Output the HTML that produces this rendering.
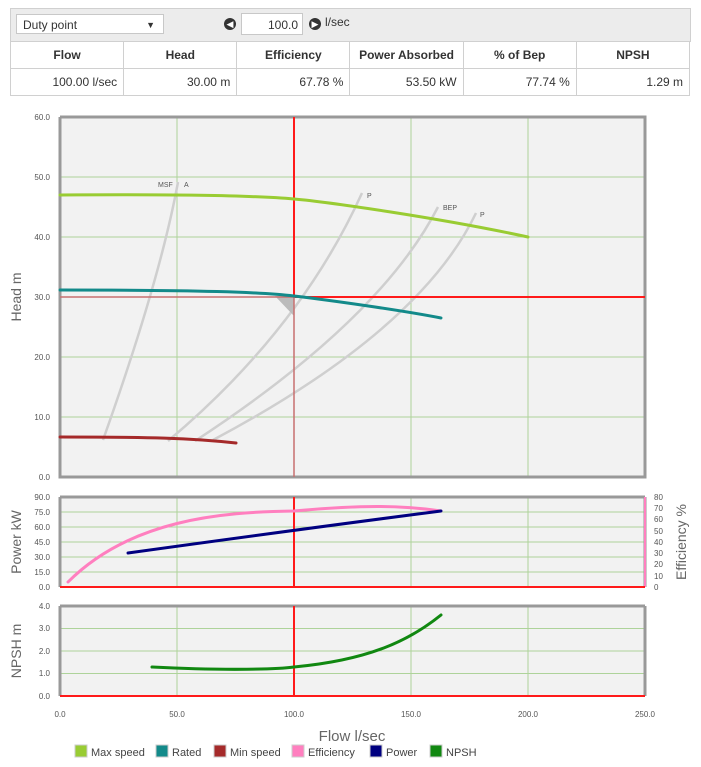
<!DOCTYPE html>
<html><head><meta charset="utf-8"><style>
body{margin:0;background:#fff;font-family:"Liberation Sans",sans-serif;}
.wrap{position:relative;width:701px;height:767px;overflow:hidden}
.bar{position:absolute;left:10px;top:8px;width:679px;height:33px;background:#ececec;border:1px solid #d0d0d0;border-bottom:none}
.sel{position:absolute;left:16px;top:14px;width:148px;height:20px;background:#fff;border:1px solid #c8c8c8;font-size:12px;color:#333;line-height:20px;padding-left:6px;box-sizing:border-box}
.sel span{position:absolute;right:8px;top:0;font-size:9px}
.circ{position:absolute;top:18px;width:12px;height:12px;border-radius:50%;background:#333;color:#fff;font-size:9px;line-height:12px;text-align:center}
.inp{position:absolute;left:241px;top:13px;width:62px;height:22px;background:#fff;border:1px solid #c8c8c8;font-size:12px;color:#333;text-align:right;line-height:22px;padding-right:4px;box-sizing:border-box}
table{position:absolute;left:10px;top:41px;border-collapse:collapse;font-size:12px;color:#333;table-layout:fixed;width:680px}
td{border:1px solid #d0d0d0;height:27px;padding:0 6px;box-sizing:border-box;white-space:nowrap}
tr.h td{font-weight:bold;text-align:center}
tr.v td{text-align:right}
</style></head><body><div class="wrap">
<div class="bar"></div>
<div class="sel">Duty point<span>▼</span></div>
<div class="circ" style="left:224px">◀</div>
<div class="inp">100.0</div>
<div class="circ" style="left:309px">▶</div>
<div style="position:absolute;left:325px;top:15px;font-size:12px;color:#333">l/sec</div>
<table>
<tr class="h"><td>Flow</td><td>Head</td><td>Efficiency</td><td>Power Absorbed</td><td>% of Bep</td><td>NPSH</td></tr>
<tr class="v"><td>100.00 l/sec</td><td>30.00 m</td><td>67.78 %</td><td>53.50 kW</td><td>77.74 %</td><td>1.29 m</td></tr>
</table>
<svg width="701" height="767" style="position:absolute;left:0;top:0" font-family="Liberation Sans,sans-serif">
<g stroke="#aed39a" stroke-width="1">
<rect x="60" y="117" width="585" height="360" fill="#f2f2f2" stroke="none"/>
<path d="M177 117V477M294 117V477M411 117V477M528 117V477M60 177H645M60 237H645M60 297H645M60 357H645M60 417H645"/>
<rect x="60" y="497" width="585" height="90" fill="#f2f2f2" stroke="none"/>
<path d="M177 497V587M294 497V587M411 497V587M528 497V587M60 512H645M60 527H645M60 542H645M60 557H645M60 572H645"/>
<rect x="60" y="606" width="585" height="90" fill="#f2f2f2" stroke="none"/>
<path d="M177 606V696M294 606V696M411 606V696M528 606V696M60 628.5H645M60 651H645M60 673.5H645"/>
</g>
<g fill="none" stroke="#999" stroke-width="3">
<path d="M60 117V477H645V117H60"/>
<path d="M60 497V587M645 497V587M60 497H645"/>
<path d="M60 606V696M645 606V696M60 606H645"/>
</g>
<g font-size="8" fill="#555" text-anchor="end">
<text x="50" y="120">60.0</text><text x="50" y="180">50.0</text><text x="50" y="240">40.0</text><text x="50" y="300">30.0</text><text x="50" y="360">20.0</text><text x="50" y="420">10.0</text><text x="50" y="480">0.0</text>
<text x="50" y="500">90.0</text><text x="50" y="515">75.0</text><text x="50" y="530">60.0</text><text x="50" y="545">45.0</text><text x="50" y="560">30.0</text><text x="50" y="575">15.0</text><text x="50" y="590">0.0</text>
<text x="50" y="609">4.0</text><text x="50" y="631">3.0</text><text x="50" y="654">2.0</text><text x="50" y="676">1.0</text><text x="50" y="699">0.0</text>
</g>
<g font-size="8" fill="#555">
<text x="654" y="500">80</text><text x="654" y="511">70</text><text x="654" y="522">60</text><text x="654" y="534">50</text><text x="654" y="545">40</text><text x="654" y="556">30</text><text x="654" y="567">20</text><text x="654" y="579">10</text><text x="654" y="590">0</text>
</g>
<path d="M645 497V587" stroke="#ff7fbf" stroke-width="2"/>
<g font-size="8" fill="#555" text-anchor="middle">
<text x="60" y="717">0.0</text><text x="177" y="717">50.0</text><text x="294" y="717">100.0</text><text x="411" y="717">150.0</text><text x="528" y="717">200.0</text><text x="645" y="717">250.0</text>
</g>
<g font-size="14" fill="#666">
<text transform="translate(21,297) rotate(-90)" text-anchor="middle">Head m</text>
<text transform="translate(21,542) rotate(-90)" text-anchor="middle">Power kW</text>
<text transform="translate(21,651) rotate(-90)" text-anchor="middle">NPSH m</text>
<text transform="translate(686,542) rotate(-90)" text-anchor="middle">Efficiency %</text>
<text x="352" y="741" text-anchor="middle" font-size="15">Flow l/sec</text>
</g>
<g fill="none" stroke="#cfcfcf" stroke-width="2.5">
<path d="M103 440Q160 280 178 182"/>
<path d="M168 441Q300 330 362 193"/>
<path d="M195 441Q380 320 438 207"/>
<path d="M213 440Q420 330 476 213"/>
</g>
<path d="M275 296L294 316L294 296Z" fill="#bbb"/>
<g font-size="7" fill="#555"><text x="158" y="187">MSF</text><text x="184" y="187">A</text><text x="367" y="198">P</text><text x="443" y="210">BEP</text><text x="480" y="217">P</text></g>
<path d="M294 117V297H645" stroke="#ff1a1a" stroke-width="2" fill="none"/>
<path d="M294 297V477M60 297H294" stroke="#c87070" stroke-width="1.5" fill="none"/>
<path d="M294 497V587M60 587H645M294 606V696M60 696H645" stroke="#ff1a1a" stroke-width="2" fill="none"/>
<g fill="none" stroke-width="3" stroke-linecap="round">
<path d="M60 195C200 194 260 196 294 199S440 218 528 237" stroke="#99cc33"/>
<path d="M60 290C200 290 260 292 294 296S400 310 441 318" stroke="#138a8a"/>
<path d="M60 437C150 437 190 438 236 443" stroke="#a52a2a"/>
<path d="M68 582C130 520 220 512 294 511C360 505 400 505 441 511" stroke="#ff7fbf"/>
<path d="M128 553Q294 530 441 511" stroke="#000080"/>
<path d="M152 667C230 671 280 669 294 667C370 660 410 640 441 615" stroke="#118811"/>
</g>
<g font-size="11" fill="#444">
<rect x="75" y="745" width="12" height="12" fill="#99cc33" stroke="#ccc"/><text x="91" y="756">Max speed</text>
<rect x="156" y="745" width="12" height="12" fill="#138a8a" stroke="#ccc"/><text x="172" y="756">Rated</text>
<rect x="214" y="745" width="12" height="12" fill="#a52a2a" stroke="#ccc"/><text x="230" y="756">Min speed</text>
<rect x="292" y="745" width="12" height="12" fill="#ff7fbf" stroke="#ccc"/><text x="308" y="756">Efficiency</text>
<rect x="370" y="745" width="12" height="12" fill="#000080" stroke="#ccc"/><text x="386" y="756">Power</text>
<rect x="430" y="745" width="12" height="12" fill="#118811" stroke="#ccc"/><text x="446" y="756">NPSH</text>
</g>
</svg>
</div></body></html>
